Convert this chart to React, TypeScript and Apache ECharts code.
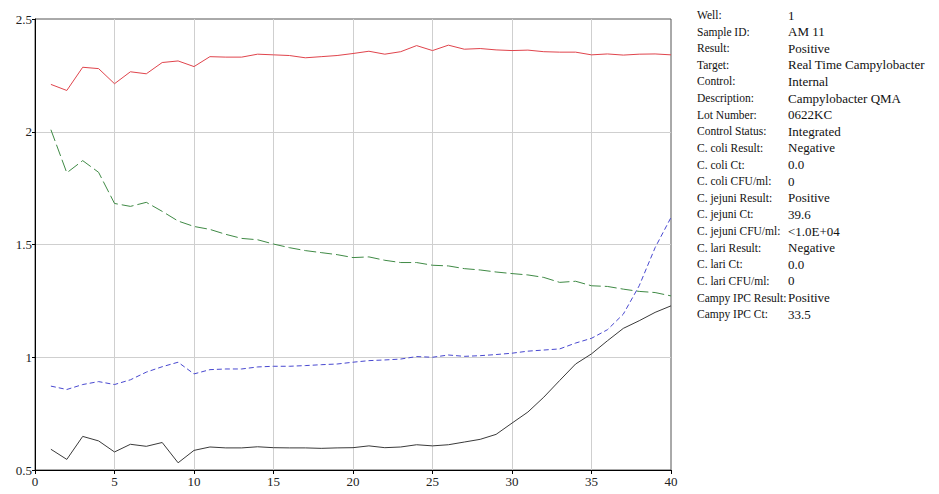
import React, { useEffect, useRef } from "react";
import * as echarts from "echarts";

const cycles = [1, 2, 3, 4, 5, 6, 7, 8, 9, 10, 11, 12, 13, 14, 15, 16, 17, 18, 19, 20, 21, 22, 23, 24, 25, 26, 27, 28, 29, 30, 31, 32, 33, 34, 35, 36, 37, 38, 39, 40];

const redSeries = [2.210, 2.183, 2.286, 2.280, 2.213, 2.266, 2.257, 2.307, 2.314, 2.289, 2.333, 2.331, 2.331, 2.344, 2.341, 2.338, 2.328, 2.333, 2.338, 2.347, 2.357, 2.344, 2.355, 2.382, 2.360, 2.384, 2.366, 2.369, 2.363, 2.360, 2.362, 2.355, 2.353, 2.353, 2.341, 2.345, 2.340, 2.344, 2.345, 2.341];

const greenSeries = [2.009, 1.818, 1.872, 1.820, 1.682, 1.669, 1.687, 1.647, 1.604, 1.580, 1.567, 1.545, 1.527, 1.521, 1.502, 1.486, 1.473, 1.464, 1.455, 1.442, 1.445, 1.430, 1.420, 1.420, 1.408, 1.405, 1.393, 1.387, 1.378, 1.371, 1.365, 1.354, 1.332, 1.337, 1.317, 1.314, 1.302, 1.292, 1.287, 1.272];

const blueSeries = [0.872, 0.857, 0.879, 0.892, 0.879, 0.900, 0.934, 0.958, 0.978, 0.926, 0.945, 0.948, 0.948, 0.957, 0.960, 0.960, 0.963, 0.967, 0.970, 0.978, 0.985, 0.988, 0.992, 1.003, 1.000, 1.010, 1.004, 1.007, 1.012, 1.018, 1.027, 1.032, 1.037, 1.063, 1.084, 1.122, 1.191, 1.317, 1.486, 1.620];

const blackSeries = [0.592, 0.547, 0.649, 0.629, 0.580, 0.614, 0.605, 0.622, 0.532, 0.587, 0.602, 0.598, 0.598, 0.603, 0.599, 0.598, 0.598, 0.596, 0.598, 0.599, 0.607, 0.599, 0.602, 0.612, 0.607, 0.612, 0.624, 0.636, 0.658, 0.708, 0.757, 0.823, 0.897, 0.970, 1.015, 1.073, 1.128, 1.162, 1.199, 1.228];

const infoLabels = [
  "Well:", "Sample ID:", "Result:", "Target:", "Control:", "Description:", "Lot Number:",
  "Control Status:", "C. coli Result:", "C. coli Ct:", "C. coli CFU/ml:", "C. jejuni Result:",
  "C. jejuni Ct:", "C. jejuni CFU/ml:", "C. lari Result:", "C. lari Ct:", "C. lari CFU/ml:",
  "Campy IPC Result:", "Campy IPC Ct:",
];

const infoValues = [
  "1", "AM 11", "Positive", "Real Time Campylobacter", "Internal", "Campylobacter QMA", "0622KC",
  "Integrated", "Negative", "0.0", "0", "Positive", "39.6", "<1.0E+04", "Negative", "0.0", "0",
  "Positive", "33.5",
];

const SERIF = "Liberation Serif";

function pairs(values: number[]) {
  return cycles.map((c, i) => [c, values[i]]);
}

export default function App() {
  const ref = useRef<HTMLDivElement>(null);

  useEffect(() => {
    if (!ref.current) return;
    const chart = echarts.init(ref.current, undefined, { renderer: "svg" });

    const graphicTexts: any[] = [];
    infoLabels.forEach((label, i) => {
      const y = 15 + i * 16.62;
      graphicTexts.push({
        type: "text",
        x: 697,
        y,
        style: { text: label, fontFamily: SERIF, fontSize: 11.5, fill: "#111", verticalAlign: "middle", align: "left" },
      });
      graphicTexts.push({
        type: "text",
        x: 788,
        y,
        style: { text: infoValues[i], fontFamily: SERIF, fontSize: 13, fill: "#111", verticalAlign: "middle", align: "left" },
      });
    });

    chart.setOption({
      animation: false,
      backgroundColor: "#fff",
      grid: {
        left: 35,
        right: 268,
        top: 19,
        bottom: 24,
        show: true,
        borderColor: "#555",
        borderWidth: 1,
      },
      xAxis: {
        type: "value",
        min: 0,
        max: 40,
        interval: 5,
        axisLine: { show: true, lineStyle: { color: "#000", width: 1 } },
        axisTick: { show: true, length: 4, lineStyle: { color: "#000" } },
        axisLabel: { color: "#222", fontFamily: SERIF, fontSize: 13, margin: 5 },
        splitLine: { show: true, showMinLine: false, showMaxLine: false, lineStyle: { color: "#cfcfcf", width: 1 } },
      },
      yAxis: {
        type: "value",
        min: 0.5,
        max: 2.5,
        interval: 0.5,
        axisLine: { show: true, lineStyle: { color: "#000", width: 1 } },
        axisTick: { show: true, length: 3, lineStyle: { color: "#000" } },
        axisLabel: { color: "#222", fontFamily: SERIF, fontSize: 13, margin: 3 },
        splitLine: { show: true, showMinLine: false, showMaxLine: false, lineStyle: { color: "#cfcfcf", width: 1 } },
      },
      series: [
        {
          type: "line",
          data: pairs(redSeries),
          symbol: "none",
          clip: false,
          lineStyle: { color: "#e0444c", width: 1, type: "solid" },
        },
        {
          type: "line",
          data: pairs(greenSeries),
          symbol: "none",
          clip: false,
          lineStyle: { color: "#3f8a45", width: 1, type: [12, 4] },
        },
        {
          type: "line",
          data: pairs(blueSeries),
          symbol: "none",
          clip: false,
          lineStyle: { color: "#4848d0", width: 1, type: [5, 3] },
        },
        {
          type: "line",
          data: pairs(blackSeries),
          symbol: "none",
          clip: false,
          lineStyle: { color: "#3a3a3a", width: 1, type: "solid" },
        },
      ],
      graphic: graphicTexts,
    });

    return () => {
      chart.dispose();
    };
  }, []);

  return (
    <div
      ref={ref}
      style={{ position: "fixed", left: 0, top: 0, width: 939, height: 494, background: "#fff" }}
    />
  );
}
